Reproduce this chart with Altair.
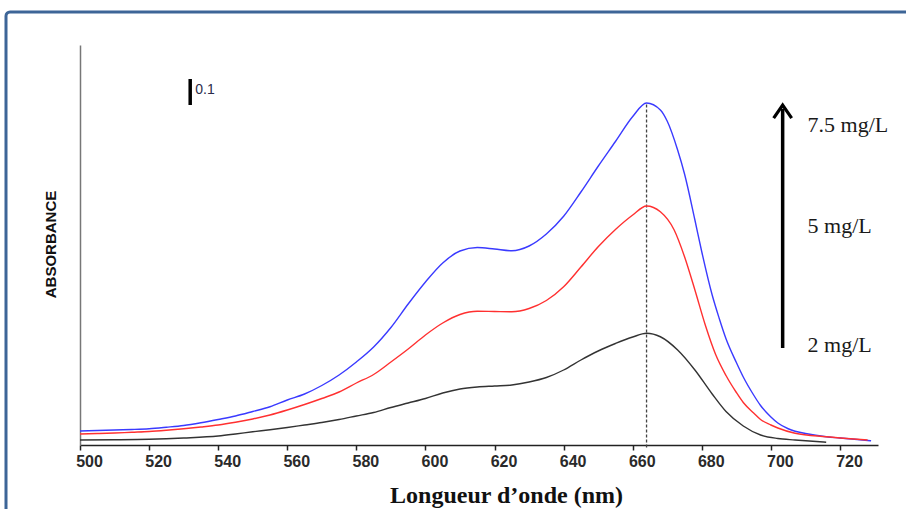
import altair as alt
import pandas as pd

# ---- data ----
series_names = ["7.5 mg/L", "5 mg/L", "2 mg/L"]
series_colors = ["#3a3aff", "#ff3030", "#333333"]

wl_blue = [500, 505, 510, 515, 520, 525, 530, 535, 540, 545, 550, 555, 560, 565, 570, 575, 580, 585, 590, 595,
           600, 605, 610, 615, 620, 625, 630, 635, 640, 645, 650, 655, 660, 664, 668, 670, 673, 675, 678, 680,
           683, 685, 687, 690, 692, 695, 697, 700, 702, 705, 707, 710, 716, 720, 725, 729]
abs_blue = [0.056, 0.058, 0.060, 0.062, 0.065, 0.071, 0.078, 0.089, 0.102, 0.116, 0.134, 0.153, 0.180, 0.204,
            0.238, 0.280, 0.332, 0.392, 0.470, 0.564, 0.652, 0.728, 0.776, 0.790, 0.784, 0.777, 0.796, 0.844,
            0.915, 1.012, 1.115, 1.214, 1.314, 1.368, 1.340, 1.295, 1.180, 1.084, 0.900, 0.772, 0.600, 0.508,
            0.425, 0.330, 0.272, 0.200, 0.158, 0.112, 0.088, 0.065, 0.055, 0.046, 0.033, 0.028, 0.022, 0.017]

wl_red = [500, 505, 510, 515, 520, 525, 530, 535, 540, 545, 550, 555, 560, 565, 570, 575, 580, 585, 590, 595,
          600, 605, 610, 615, 620, 625, 630, 635, 640, 645, 650, 655, 660, 664, 668, 672, 675, 678, 681, 684,
          687, 690, 692, 695, 697, 700, 702, 707, 716, 722, 728]
abs_red = [0.044, 0.046, 0.048, 0.051, 0.054, 0.059, 0.065, 0.072, 0.080, 0.091, 0.104, 0.120, 0.140, 0.162,
           0.186, 0.212, 0.248, 0.282, 0.332, 0.384, 0.440, 0.488, 0.522, 0.535, 0.534, 0.533, 0.546, 0.578,
           0.633, 0.712, 0.793, 0.862, 0.920, 0.956, 0.933, 0.860, 0.753, 0.620, 0.480, 0.362, 0.278, 0.210,
           0.170, 0.128, 0.102, 0.080, 0.068, 0.047, 0.033, 0.026, 0.020]

wl_black = [500, 510, 520, 530, 540, 545, 550, 555, 560, 565, 570, 575, 580, 585, 590, 595, 600, 605, 610, 615,
            620, 625, 630, 635, 640, 645, 650, 655, 660, 664, 668, 673, 678, 683, 687, 692, 697, 702, 707, 716]
abs_black = [0.020, 0.021, 0.023, 0.028, 0.036, 0.044, 0.053, 0.061, 0.070, 0.080, 0.090, 0.102, 0.116, 0.130,
             0.150, 0.168, 0.186, 0.208, 0.224, 0.232, 0.236, 0.240, 0.252, 0.270, 0.300, 0.340, 0.376, 0.406,
             0.432, 0.447, 0.433, 0.380, 0.300, 0.204, 0.134, 0.076, 0.040, 0.026, 0.020, 0.011]

x_ticks = [500, 520, 540, 560, 580, 600, 620, 640, 660, 680, 700, 720]
peak_wl = [664]
peak_abs = [1.368]

scalebar_wl = [531.9]
scalebar_lo = [1.36]
scalebar_hi = [1.464]
scalebar_text = ["0.1"]

arrow_wl = [703.4]
arrow_lo = [0.388]
arrow_hi = [1.345]
arrow_tip = [1.36]

label_wl = [710.6, 710.6, 710.6]
label_abs = [1.252, 0.847, 0.373]

# ---- build tables ----
rows = []
for name, wls, abss in zip(series_names, [wl_blue, wl_red, wl_black], [abs_blue, abs_red, abs_black]):
    for w, a in zip(wls, abss):
        rows.append({"series": name, "wl": w, "abs": a})
df = pd.DataFrame(rows)

x_scale = alt.Scale(domain=[500, 731], nice=False, zero=False)
y_scale = alt.Scale(domain=[0, 1.6], nice=False, zero=False)

x_axis = alt.Axis(
    values=x_ticks, format="d", title="Longueur d\u2019onde (nm)", grid=False,
    labelFont="Liberation Sans", labelFontWeight="bold", labelFontSize=16, labelColor="#2a2a2a",
    labelOffset=9, labelPadding=3, labelFlush=False, labelOverlap=False,
    tickSize=5, tickColor="#222222", tickWidth=1.5,
    domainColor="#222222", domainWidth=1.6,
    titleFont="Liberation Serif", titleFontSize=24, titleFontWeight="bold", titleColor="#111111",
    titleX=426, titleY=57, titleAlign="center", titleBaseline="alphabetic",
)
y_axis = alt.Axis(
    title="ABSORBANCE", labels=False, ticks=False, grid=False,
    domainColor="#777777", domainWidth=1.5,
    titleFont="Liberation Sans", titleFontSize=15, titleFontWeight="bold", titleColor="#111111",
    titleAngle=270, titleX=-30, titleY=199, titleAlign="center", titleBaseline="middle",
)

border = alt.Chart(pd.DataFrame({"k": [0]})).mark_rect(
    fillOpacity=0, stroke="#3d6597", strokeWidth=3, cornerRadius=4
).encode(x=alt.value(-74), x2=alt.value(860), y=alt.value(-33), y2=alt.value(490))

lines = alt.Chart(df).mark_line(strokeWidth=1.4, interpolate="monotone").encode(
    x=alt.X("wl:Q", scale=x_scale, axis=x_axis),
    y=alt.Y("abs:Q", scale=y_scale, axis=y_axis),
    color=alt.Color("series:N", scale=alt.Scale(domain=series_names, range=series_colors), legend=None),
)

peak = alt.Chart(pd.DataFrame({"wl": peak_wl, "top": peak_abs, "bot": [-0.01]})).mark_rule(
    strokeDash=[3, 2], color="#444444", strokeWidth=1.3
).encode(x="wl:Q", y="bot:Q", y2="top:Q")

sb_df = pd.DataFrame({"wl": scalebar_wl, "lo": scalebar_lo, "hi": scalebar_hi, "t": scalebar_text,
                      "mid": [(scalebar_lo[0] + scalebar_hi[0]) / 2 + 0.01]})
scalebar = alt.Chart(sb_df).mark_rule(color="#000000", strokeWidth=3.5).encode(x="wl:Q", y="lo:Q", y2="hi:Q")
scalebar_label = alt.Chart(sb_df).mark_text(
    align="left", baseline="middle", dx=5, font="Liberation Sans", fontSize=14, color="#2b2b4a"
).encode(x="wl:Q", y="mid:Q", text="t:N")

ar_df = pd.DataFrame({"wl": arrow_wl, "lo": arrow_lo, "hi": arrow_hi, "tip": arrow_tip})
shaft = alt.Chart(ar_df).mark_rule(color="#000000", strokeWidth=3.5).encode(x="wl:Q", y="lo:Q", y2="hi:Q")
head = alt.Chart(ar_df).mark_point(
    shape="M -1 1.45 L 0 0 L 1 1.45", size=324, filled=False, stroke="#000000", strokeWidth=3.2, opacity=1
).encode(x="wl:Q", y="tip:Q")

lab_df = pd.DataFrame({"wl": label_wl, "abs": label_abs, "t": series_names})
labels = alt.Chart(lab_df).mark_text(
    align="left", baseline="alphabetic", font="Liberation Serif", fontSize=22, color="#1a1a1a"
).encode(x="wl:Q", y="abs:Q", text="t:N")

chart = alt.layer(border, peak, lines, scalebar, scalebar_label, shaft, head, labels).properties(
    width=798, height=400,
    autosize=alt.AutoSizeParams(type="none"),
    padding={"left": 80, "top": 45, "right": 28, "bottom": 64},
    background="white",
).configure_view(stroke=None)

chart.save("out.html", embed_options={"renderer": "svg", "actions": False})
